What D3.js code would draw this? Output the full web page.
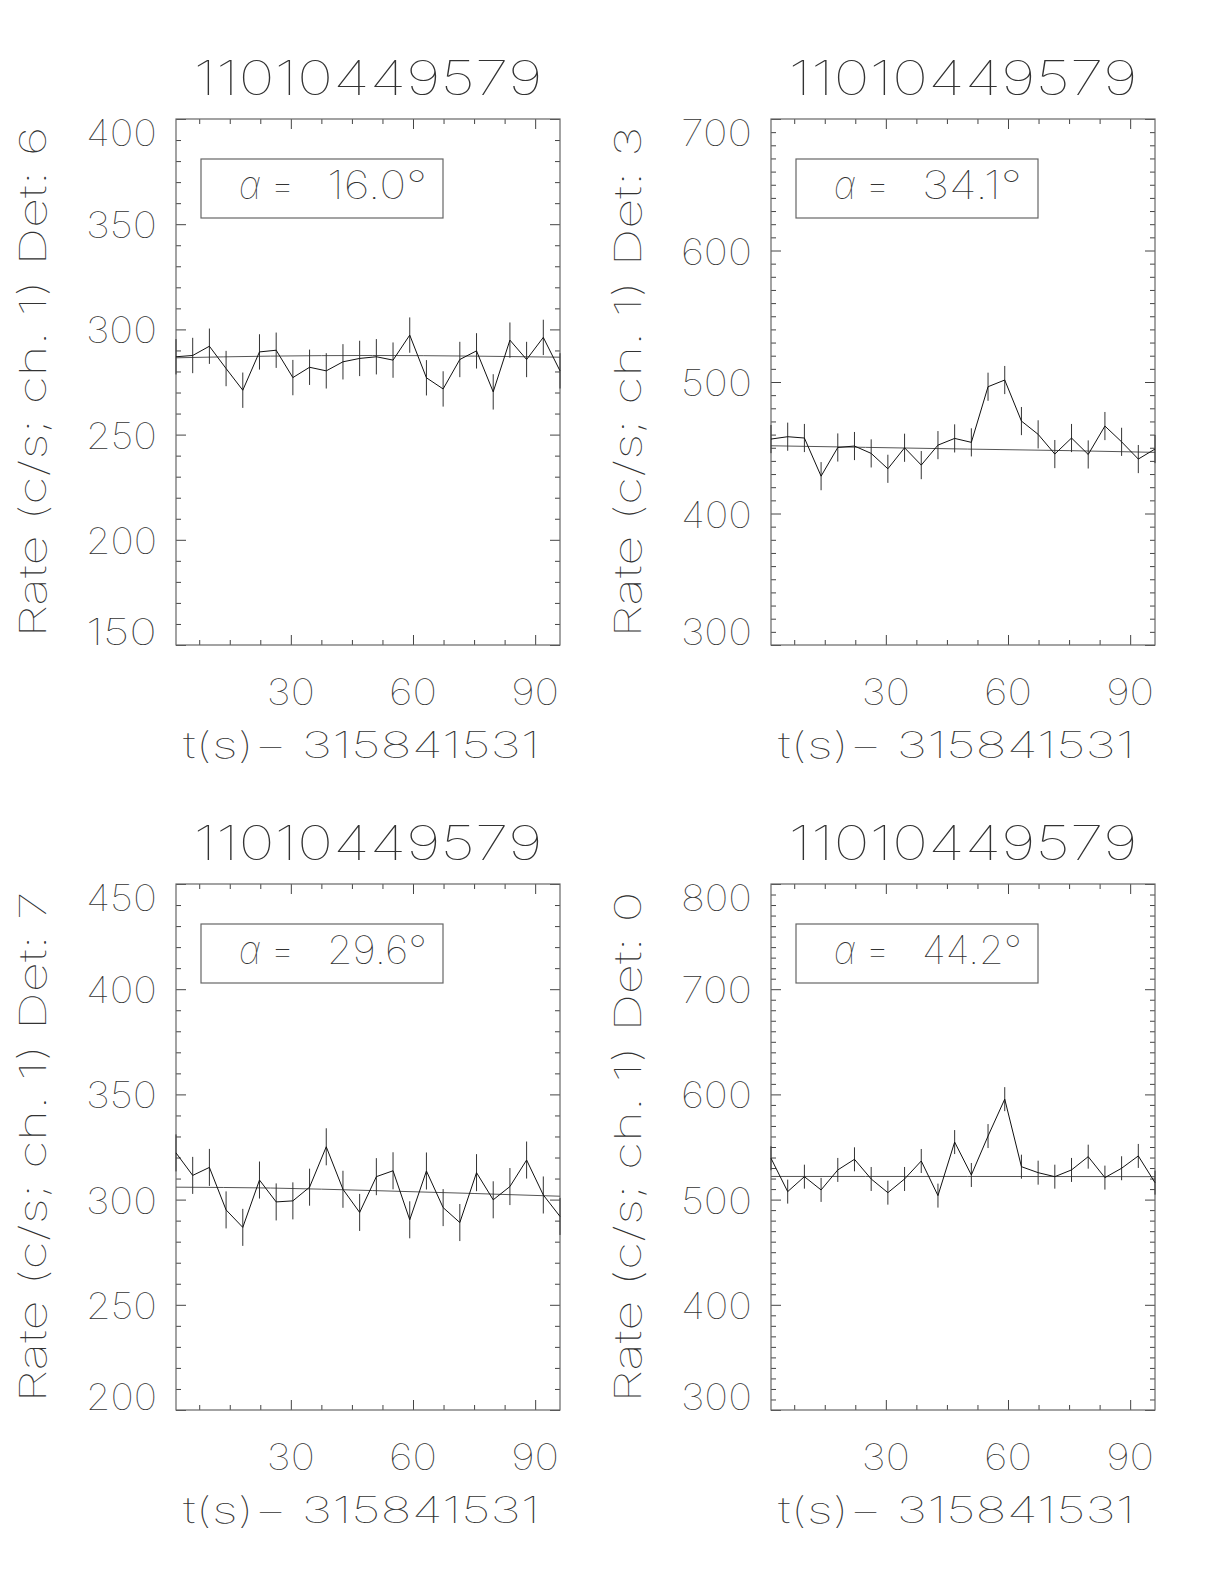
<!DOCTYPE html>
<html><head><meta charset="utf-8">
<script src="https://cdn.jsdelivr.net/npm/d3@7"></script>
<style>
body{margin:0;background:#fff}
text{font-family:Inter,Roboto,"DejaVu Sans",sans-serif;font-weight:100;fill:#333}
text.greek{font-style:italic}
</style>
</head><body>
<svg id="c" width="1224" height="1584"></svg>
<script>
// ---------------- data ----------------
const obsId = "11010449579";
const xTitle = "t(s)\u2212 315841531";
const detectors = [6, 3, 7, 0];
const alphaDeg = ["16.0", "34.1", "29.6", "44.2"];
const times = [1.8, 5.9, 10.0, 14.1, 18.2, 22.3, 26.4, 30.5, 34.6, 38.7, 42.8, 46.9,
               51.0, 55.1, 59.2, 63.3, 67.4, 71.5, 75.6, 79.7, 83.8, 87.9, 92.0, 96.1];
const rateDet6 = [287.0, 287.6, 292.0, 281.4, 271.1, 289.3, 290.1, 277.1, 282.0, 280.3, 284.6, 286.2,
                  287.0, 285.4, 297.3, 277.0, 271.7, 285.7, 289.8, 270.3, 294.9, 285.7, 296.2, 280.3];
const rateDet3 = [456.6, 458.4, 457.4, 428.4, 450.2, 451.3, 445.7, 434.0, 450.0, 436.8, 452.0, 457.1,
                  454.1, 496.4, 501.5, 470.3, 460.2, 445.2, 457.4, 444.9, 466.5, 454.5, 441.4, 449.0];
const rateDet7 = [322.2, 311.5, 315.3, 295.1, 286.8, 309.3, 298.9, 299.4, 305.9, 325.1, 304.9, 293.9,
                  310.9, 313.7, 290.4, 313.6, 296.2, 289.1, 312.8, 299.9, 306.2, 318.8, 302.2, 292.0];
const rateDet0 = [539.3, 507.6, 521.8, 509.2, 528.2, 538.3, 519.6, 506.6, 519.6, 536.7, 503.8, 554.7,
                  523.4, 560.4, 595.5, 531.3, 525.6, 521.8, 528.2, 540.8, 520.9, 529.8, 541.5, 516.1];
const errHalf = [8.4, 10.7, 8.8, 11.4];
const modelTimes = [1.8, 25, 50, 75, 96.1];
const modelDet6 = [286.5, 287.3, 287.6, 287.3, 286.8];
const modelDet3 = [451.5, 450.3, 449.0, 447.8, 446.5];
const modelDet7 = [305.9, 305.5, 304.3, 302.9, 301.6];
const modelDet0 = [522.0, 522.0, 522.0, 521.9, 521.8];
const yDomains = [[150, 400], [300, 700], [200, 450], [300, 800]];
const yMajorTicks = [[150, 200, 250, 300, 350, 400], [300, 400, 500, 600, 700],
                     [200, 250, 300, 350, 400, 450], [300, 400, 500, 600, 700, 800]];
const xMajorTicks = [30, 60, 90];
const xMinorTicks = [7.5, 15, 22.5, 37.5, 45, 52.5, 67.5, 75, 82.5];

const rates = [rateDet6, rateDet3, rateDet7, rateDet0];
const models = [modelDet6, modelDet3, modelDet7, modelDet0];

// ---------------- layout ----------------
const panelPos = [[176, 119], [771, 119], [176, 884], [771, 884]];
const W = 384, H = 526;
const svg = d3.select("#c");

panelPos.forEach(([L, T], p) => {
  const g = svg.append("g");
  const x = d3.scaleLinear().domain([times[0], times[times.length - 1]]).range([L, L + W]);
  const y = d3.scaleLinear().domain(yDomains[p]).range([T + H, T]);
  const yMinor = d3.range(yDomains[p][0], yDomains[p][1] + 0.001, 10).filter(v => !yMajorTicks[p].includes(v));

  const addAxis = (gen, vals, size, tr) => {
    const a = g.append("g").attr("transform", tr).attr("color", "#444")
      .call(gen.tickValues(vals).tickSizeInner(-size).tickSizeOuter(0).tickFormat(""));
    a.select(".domain").remove();
    a.selectAll("text").remove();
    a.selectAll("line").attr("stroke-width", 1);
  };
  addAxis(d3.axisBottom(x), xMajorTicks, 10, `translate(0,${T + H})`);
  addAxis(d3.axisBottom(x), xMinorTicks, 5, `translate(0,${T + H})`);
  addAxis(d3.axisTop(x), xMajorTicks, 10, `translate(0,${T})`);
  addAxis(d3.axisTop(x), xMinorTicks, 5, `translate(0,${T})`);
  addAxis(d3.axisLeft(y), yMajorTicks[p], 10, `translate(${L},0)`);
  addAxis(d3.axisLeft(y), yMinor, 5, `translate(${L},0)`);
  addAxis(d3.axisRight(y), yMajorTicks[p], 10, `translate(${L + W},0)`);
  addAxis(d3.axisRight(y), yMinor, 5, `translate(${L + W},0)`);

  g.append("rect").attr("x", L).attr("y", T).attr("width", W).attr("height", H)
    .attr("fill", "none").attr("stroke", "#666").attr("stroke-width", 1.2);

  const mdata = modelTimes.map((t, i) => ({t, r: models[p][i]}));
  g.append("path").datum(mdata)
    .attr("d", d3.line().x(d => x(d.t)).y(d => y(d.r)).curve(d3.curveMonotoneX))
    .attr("fill", "none").attr("stroke", "#555").attr("stroke-width", 1);

  const data = times.map((t, i) => ({t, r: rates[p][i]}));
  g.append("g").selectAll("line").data(data).join("line")
    .attr("x1", d => x(d.t)).attr("x2", d => x(d.t))
    .attr("y1", d => y(d.r - errHalf[p])).attr("y2", d => y(d.r + errHalf[p]))
    .attr("stroke", "#333").attr("stroke-width", 1);
  g.append("path").datum(data)
    .attr("d", d3.line().x(d => x(d.t)).y(d => y(d.r)))
    .attr("fill", "none").attr("stroke", "#111").attr("stroke-width", 1);

  const [lo, hi] = yDomains[p];
  g.append("g").selectAll("text").data(yMajorTicks[p]).join("text")
    .attr("x", L - 19)
    .attr("y", v => v === hi ? T + 27 : v === lo ? T + H : y(v) + 14)
    .attr("text-anchor", "end").attr("font-size", 36)
    .attr("textLength", v => String(v).length * 23.7).attr("lengthAdjust", "spacingAndGlyphs")
    .text(v => v);

  g.append("g").selectAll("text").data(xMajorTicks).join("text")
    .attr("x", v => x(v)).attr("y", T + H + 60)
    .attr("text-anchor", "middle").attr("font-size", 36)
    .attr("textLength", 48).attr("lengthAdjust", "spacingAndGlyphs")
    .text(v => v);

  g.append("text").attr("x", L + 7).attr("y", T + H + 113).attr("font-size", 36)
    .attr("textLength", 357).attr("lengthAdjust", "spacingAndGlyphs").text(xTitle);

  g.append("text").attr("x", L + W / 2).attr("y", T - 24).attr("text-anchor", "middle")
    .attr("font-size", 48).attr("textLength", 349).attr("lengthAdjust", "spacingAndGlyphs")
    .text(obsId);

  g.append("text").attr("transform", `translate(${L - 130},${T + H / 2}) rotate(-90)`)
    .attr("text-anchor", "middle").attr("font-size", 37)
    .attr("textLength", 511).attr("lengthAdjust", "spacingAndGlyphs")
    .text(`Rate (c/s; ch. 1) Det: ${detectors[p]}`);

  g.append("rect").attr("x", L + 25).attr("y", T + 40).attr("width", 242).attr("height", 59)
    .attr("fill", "none").attr("stroke", "#666").attr("stroke-width", 1.2);
  g.append("text").attr("class", "greek").attr("x", L + 63).attr("y", T + 80).attr("font-size", 39)
    .attr("textLength", 21).attr("lengthAdjust", "spacingAndGlyphs")
    .text("\u03b1");
  g.append("text").attr("x", L + 94).attr("y", T + 80).attr("font-size", 39)
    .attr("textLength", 25).attr("lengthAdjust", "spacingAndGlyphs").text("=");
  g.append("text").attr("x", L + 151).attr("y", T + 80).attr("font-size", 39)
    .attr("textLength", 100).attr("lengthAdjust", "spacingAndGlyphs")
    .text(alphaDeg[p] + "\u00b0");
});
</script>
</body></html>
